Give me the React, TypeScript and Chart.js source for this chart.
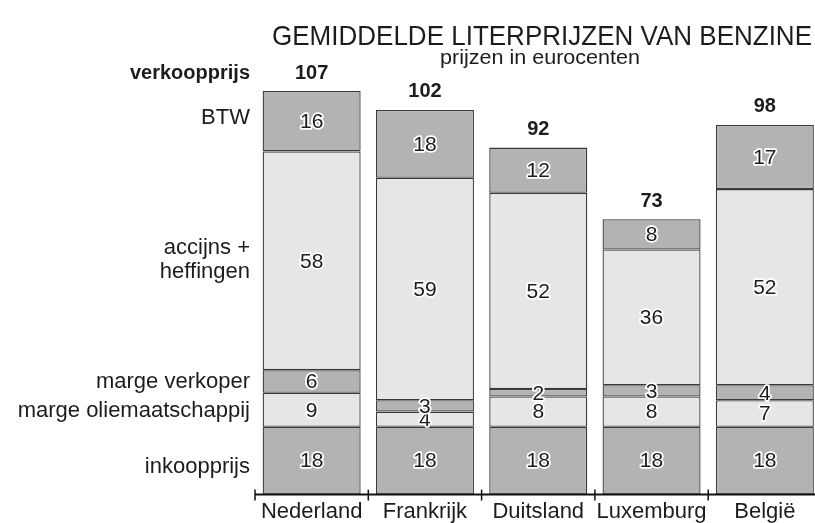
import React, { useEffect, useRef } from "react";
import { Chart, registerables } from "chart.js";

Chart.register(...registerables);

const countries = ["Nederland", "Frankrijk", "Duitsland", "Luxemburg", "België"];
const inkoopprijs = [18, 18, 18, 18, 18];
const margeOlie = [9, 4, 8, 8, 7];
const margeVerkoper = [6, 3, 2, 3, 4];
const accijns = [58, 59, 52, 36, 52];
const btw = [16, 18, 12, 8, 17];
const totals = [107, 102, 92, 73, 98];

const DARK = "#b3b3b3";
const LIGHT = "#e6e6e6";
const SANS = "'Liberation Sans', Arial, sans-serif";
const TEXT = "#1c1c1c";

function fitText(ctx: CanvasRenderingContext2D, text: string, font: string, cx: number, cy: number, width: number) {
  ctx.save();
  ctx.font = font;
  const w = ctx.measureText(text).width;
  ctx.translate(cx, cy);
  ctx.scale(width / w, 1);
  ctx.textAlign = "center";
  ctx.textBaseline = "middle";
  ctx.fillText(text, 0, 0);
  ctx.restore();
}

const overlay = {
  id: "overlay",
  afterDatasetsDraw(chart: any) {
    const ctx: CanvasRenderingContext2D = chart.ctx;
    const x = chart.scales.x;
    const y = chart.scales.y;
    const area = chart.chartArea;
    ctx.save();
    // segment value labels
    ctx.font = `21px ${SANS}`;
    ctx.textAlign = "center";
    ctx.textBaseline = "middle";
    ctx.lineJoin = "round";
    chart.data.datasets.forEach((ds: any, di: number) => {
      const meta = chart.getDatasetMeta(di);
      meta.data.forEach((bar: any, i: number) => {
        const cy = (bar.y + bar.base) / 2;
        const t = String(ds.data[i]);
        ctx.lineWidth = 3.5;
        ctx.strokeStyle = "#ffffff";
        ctx.strokeText(t, bar.x, cy + 1);
        ctx.fillStyle = TEXT;
        ctx.fillText(t, bar.x, cy + 1);
      });
    });
    // totals
    ctx.font = `bold 20px ${SANS}`;
    ctx.fillStyle = TEXT;
    totals.forEach((v, i) => {
      ctx.fillText(String(v), x.getPixelForValue(i), y.getPixelForValue(v) - 18);
    });
    // left labels
    ctx.textAlign = "right";
    ctx.fillText("verkoopprijs", 250, y.getPixelForValue(totals[0]) - 18);
    ctx.font = `22px ${SANS}`;
    const lx = 250;
    const a0 = inkoopprijs[0];
    const a1 = a0 + margeOlie[0];
    const a2 = a1 + margeVerkoper[0];
    const a3 = a2 + accijns[0];
    const a4 = a3 + btw[0];
    ctx.fillText("inkoopprijs", lx, y.getPixelForValue(a0 / 2) + 6);
    ctx.fillText("marge oliemaatschappij", lx, y.getPixelForValue((a0 + a1) / 2) + 1);
    ctx.fillText("marge verkoper", lx, y.getPixelForValue((a1 + a2) / 2));
    const accY = y.getPixelForValue((a2 + a3) / 2);
    ctx.fillText("accijns +", lx, accY - 13);
    ctx.fillText("heffingen", lx, accY + 11);
    ctx.fillText("BTW", lx, y.getPixelForValue((a3 + a4) / 2) - 3);
    // axis
    const half = (x.getPixelForValue(1) - x.getPixelForValue(0)) / 2;
    ctx.strokeStyle = "#111111";
    ctx.lineWidth = 2;
    ctx.beginPath();
    ctx.moveTo(x.getPixelForValue(0) - half, area.bottom);
    ctx.lineTo(chart.width, area.bottom);
    ctx.stroke();
    ctx.lineWidth = 1.5;
    countries.forEach((_, i) => {
      const tx = x.getPixelForValue(i) - half;
      ctx.beginPath();
      ctx.moveTo(tx, area.bottom - 5);
      ctx.lineTo(tx, area.bottom + 6);
      ctx.stroke();
    });
    // titles
    ctx.fillStyle = TEXT;
    fitText(ctx, "GEMIDDELDE LITERPRIJZEN VAN BENZINE", `28px ${SANS}`, 542, 37, 540);
    fitText(ctx, "prijzen in eurocenten", `20px ${SANS}`, 540, 58, 200);
    ctx.restore();
  },
};

export default function App() {
  const ref = useRef<HTMLCanvasElement | null>(null);
  useEffect(() => {
    if (!ref.current) return;
    const mk = (label: string, data: number[], color: string) => ({
      label,
      data,
      backgroundColor: color,
      borderColor: "#3a3a3a",
      borderWidth: 1.3,
      borderSkipped: false,
      categoryPercentage: 1,
      barPercentage: 0.865,
    });
    const chart = new Chart(ref.current, {
      type: "bar",
      data: {
        labels: countries,
        datasets: [
          mk("inkoopprijs", inkoopprijs, DARK),
          mk("marge oliemaatschappij", margeOlie, LIGHT),
          mk("marge verkoper", margeVerkoper, DARK),
          mk("accijns + heffingen", accijns, LIGHT),
          mk("BTW", btw, DARK),
        ],
      },
      options: {
        responsive: false,
        animation: false,
        events: [],
        layout: { padding: { left: 255, right: 8.5, top: 42, bottom: 0 } },
        plugins: { legend: { display: false }, tooltip: { enabled: false } },
        scales: {
          x: {
            stacked: true,
            grid: { display: false, drawTicks: false },
            border: { display: false },
            ticks: { font: { size: 22, family: SANS }, color: TEXT, padding: 4, maxRotation: 0, autoSkip: false },
          },
          y: { stacked: true, display: false, min: 0, max: 120 },
        },
      },
      plugins: [overlay],
    });
    return () => chart.destroy();
  }, []);
  return (
    <div style={{ position: "absolute", left: 0, top: 0, width: 815, height: 523, overflow: "hidden", background: "#fff" }}>
      <canvas ref={ref} width={830} height={529} style={{ width: 830, height: 529, display: "block" }} />
    </div>
  );
}
